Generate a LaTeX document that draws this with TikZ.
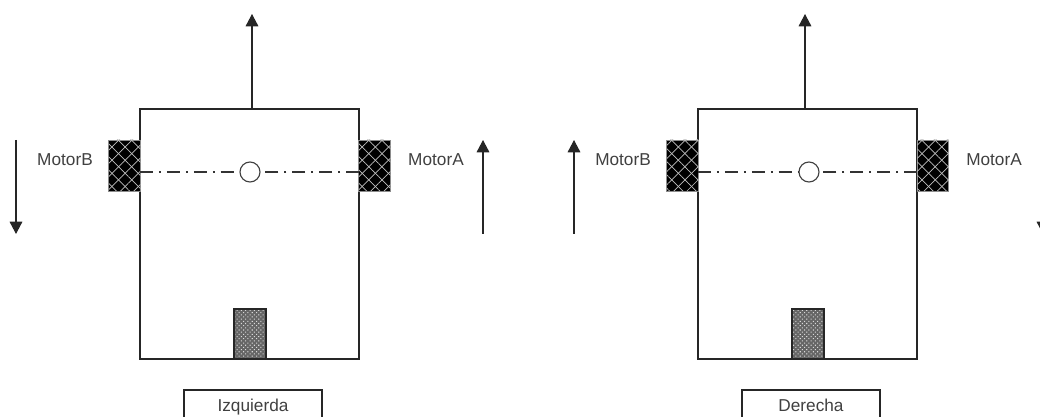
\documentclass[tikz,border=0pt]{standalone}
\usepackage{fontspec}
\setmainfont{Liberation Sans}
\usetikzlibrary{arrows.meta, patterns.meta}

\begin{document}
\begin{tikzpicture}[
	font = \fontsize{9.8}{12}\selectfont,
	linea/.style = {line width = 0.65pt, black!85},
	flecha/.style = {linea, -{Triangle[width = 7.2pt, length = 7pt]}},
	eje/.style = {line width = 0.65pt, black!80, dash pattern = on 7.4pt off 3.4pt on 1.1pt off 3.4pt},
	texto/.style = {text = black!75, inner sep = 0pt},
	chasis/.style = {draw, linea, minimum width = 4.38 cm, minimum height = 5 cm, outer sep = 0pt},
	motor/.style = {minimum width = 0.63 cm, minimum height = 1.02 cm, outer sep = 0pt, draw = black!45, line width = 0.3pt, fill = black,
		postaction = {pattern = {Lines[angle = 45, distance = 5.3pt, line width = 0.4pt]}, pattern color = black!25},
		postaction = {pattern = {Lines[angle = -45, distance = 5.3pt, line width = 0.4pt]}, pattern color = black!25}},
	sensor/.style = {minimum width = 0.64 cm, minimum height = 1 cm, outer sep = 0pt, fill = black!60,
		postaction = {pattern = {Dots[radius = 0.42pt, distance = 1.75pt, angle = 45]}, pattern color = black!15},
		postaction = {draw, linea}},
	centro/.style = {circle, draw, line width = 0.65pt, black!75, fill = white, minimum size = 0.4 cm, inner sep = 0pt},
	etiqueta/.style = {draw, linea, text = black!75, text height = 7pt, text depth = 2pt, minimum width = 2.76 cm, minimum height = 0.68 cm, outer sep = 0pt}
	]

	\clip (0, 0) rectangle (20.8, 8.34);

	% izquierda
	\node [chasis] (chasisI) at (4.99, 3.66) {};
	\node [motor] (motorBI) at (2.49, 5.03) {};
	\node [motor] (motorAI) at (7.49, 5.03) {};
	\node [sensor] (sensorI) at (5, 1.66) {};
	\node [centro] (centroI) at (5, 4.9) {};
	\node [texto] (nombreBI) at (1.3, 5.14) {MotorB};
	\node [texto] (nombreAI) at (8.72, 5.14) {MotorA};
	\node [etiqueta] (etiquetaI) at (5.06, 0.2) {Izquierda};

	\coordinate (puntaI) at (5.04, 8.06);
	\coordinate (inicioBI) at (0.32, 5.54);
	\coordinate (finBI) at (0.32, 3.66);
	\coordinate (inicioAI) at (9.66, 3.66);
	\coordinate (finAI) at (9.66, 5.54);

	\draw [flecha] (chasisI.north -| puntaI) -- (puntaI);
	\draw [flecha] (inicioBI) -- (finBI);
	\draw [flecha] (inicioAI) -- (finAI);
	\draw [eje] (chasisI.west |- centroI) -- (centroI.west);
	\draw [eje] (chasisI.east |- centroI) -- (centroI.east);

	% derecha
	\node [chasis] (chasisD) at (16.15, 3.66) {};
	\node [motor] (motorBD) at (13.65, 5.03) {};
	\node [motor] (motorAD) at (18.66, 5.03) {};
	\node [sensor] (sensorD) at (16.16, 1.66) {};
	\node [centro] (centroD) at (16.18, 4.9) {};
	\node [texto] (nombreBD) at (12.46, 5.14) {MotorB};
	\node [texto] (nombreAD) at (19.88, 5.14) {MotorA};
	\node [etiqueta] (etiquetaD) at (16.22, 0.2) {Derecha};

	\coordinate (puntaD) at (16.1, 8.06);
	\coordinate (inicioBD) at (11.48, 3.66);
	\coordinate (finBD) at (11.48, 5.54);
	\coordinate (inicioAD) at (20.86, 5.54);
	\coordinate (finAD) at (20.86, 3.66);

	\draw [flecha] (chasisD.north -| puntaD) -- (puntaD);
	\draw [flecha] (inicioBD) -- (finBD);
	\draw [flecha] (inicioAD) -- (finAD);
	\draw [eje] (chasisD.west |- centroD) -- (centroD.west);
	\draw [eje] (chasisD.east |- centroD) -- (centroD.east);

\end{tikzpicture}
\end{document}
